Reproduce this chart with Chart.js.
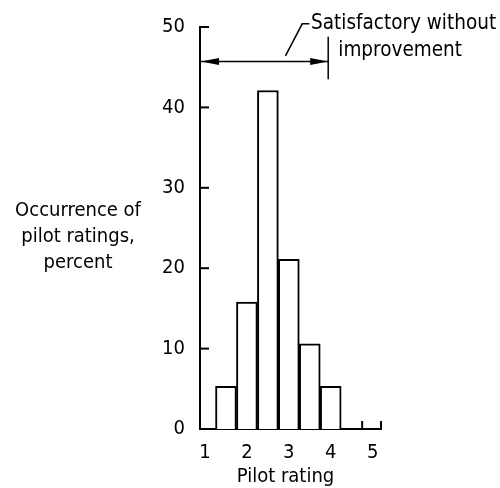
<!DOCTYPE html>
<html>
<head>
<meta charset="utf-8">
<script src="https://cdn.jsdelivr.net/npm/chart.js@4"></script>
<style>
  body { margin: 0; background: #fff; }
  #wrap { width: 500px; height: 488px; }
</style>
</head>
<body>
<div id="wrap"><canvas id="chart" width="500" height="488"></canvas></div>
<script>
// pilot rating bins (centers) and percent occurrence
const ratings = [1.5, 2, 2.5, 3, 3.5, 4];
const percents = [5.3, 15.8, 42.1, 21.1, 10.6, 5.3];
const xTicks = [1, 2, 3, 4, 5];
const yTicks = [0, 10, 20, 30, 40, 50];
const xMarks = [4.75, 5.2];
const yTitle = ['Occurrence of', 'pilot ratings,', 'percent'];
const note = ['Satisfactory without', 'improvement'];
const satisfactory = [0.88, 3.94]; // arrow range, rating units
const arrowLevel = 45.7;

const FONT = "'DejaVu Sans Condensed', sans-serif";
const TICKFONT = "'Liberation Sans Narrow', 'DejaVu Sans Condensed', sans-serif";

const extras = {
  id: 'extras',
  afterDraw(chart) {
    const ctx = chart.ctx;
    const x = chart.scales.x, y = chart.scales.y;
    const area = chart.chartArea;
    ctx.save();
    ctx.strokeStyle = '#000';
    ctx.fillStyle = '#000';
    ctx.lineWidth = 2;

    // y tick stubs pointing inward
    yTicks.forEach(v => {
      if (v === 0) return;
      const py = y.getPixelForValue(v);
      ctx.beginPath();
      ctx.moveTo(area.left, py);
      ctx.lineTo(area.left + 9, py);
      ctx.stroke();
    });

    // small upward marks at right end of x axis
    xMarks.forEach(v => {
      const px = x.getPixelForValue(v);
      ctx.beginPath();
      ctx.moveTo(px, area.bottom);
      ctx.lineTo(px, area.bottom - 8);
      ctx.stroke();
    });

    // y title, three centered lines
    ctx.font = '20px ' + FONT;
    ctx.textAlign = 'center';
    ctx.textBaseline = 'middle';
    yTitle.forEach((t, i) => ctx.fillText(t, 78, 211 + i * 26));

    // x title
    ctx.fillText('Pilot rating', x.getPixelForValue(2.92), 477);

    // arrow for satisfactory range
    const ay = y.getPixelForValue(arrowLevel);
    const x0 = x.getPixelForValue(satisfactory[0]);
    const x1 = x.getPixelForValue(satisfactory[1]);
    ctx.lineWidth = 1.5;
    ctx.beginPath();
    ctx.moveTo(x0, ay);
    ctx.lineTo(x1, ay);
    ctx.stroke();
    const head = (tip, dir) => {
      ctx.beginPath();
      ctx.moveTo(tip, ay);
      ctx.lineTo(tip + dir * 18, ay - 3.5);
      ctx.lineTo(tip + dir * 18, ay + 3.5);
      ctx.closePath();
      ctx.fill();
    };
    head(x0 + 1, 1);
    head(x1, -1);
    ctx.beginPath();
    ctx.moveTo(x1, y.getPixelForValue(48.8));
    ctx.lineTo(x1, y.getPixelForValue(43.5));
    ctx.stroke();

    // leader line to note
    ctx.beginPath();
    ctx.moveTo(x.getPixelForValue(2.92), y.getPixelForValue(46.4));
    ctx.lineTo(x.getPixelForValue(3.32), y.getPixelForValue(50.4));
    ctx.lineTo(x.getPixelForValue(3.49), y.getPixelForValue(50.4));
    ctx.stroke();

    ctx.font = '20.5px ' + FONT;
    ctx.textAlign = 'left';
    ctx.fillText(note[0], x.getPixelForValue(3.53), y.getPixelForValue(50.4));
    ctx.fillText(note[1], x.getPixelForValue(4.18), y.getPixelForValue(47.1));
    ctx.restore();
  }
};

new Chart(document.getElementById('chart'), {
  type: 'bar',
  data: {
    datasets: [{
      data: ratings.map((r, i) => ({ x: r, y: percents[i] })),
      backgroundColor: '#fff',
      borderColor: '#000',
      borderWidth: 2,
      barPercentage: 1,
      categoryPercentage: 1
    }]
  },
  options: {
    responsive: false,
    animation: false,
    layout: { padding: { top: 23, right: 119, left: 0, bottom: 0 } },
    plugins: { legend: { display: false }, tooltip: { enabled: false } },
    scales: {
      x: {
        type: 'linear',
        offset: false,
        min: 0.88,
        max: 5.2,
        afterBuildTicks: s => { s.ticks = xTicks.map(v => ({ value: v })); },
        afterFit: s => { s.height = 59; },
        grid: { display: false, drawTicks: false, offset: false },
        border: { color: '#000', width: 2 },
        ticks: { color: '#000', padding: 12, maxRotation: 0, font: { family: TICKFONT, size: 20 } }
      },
      y: {
        min: 0,
        max: 50,
        afterBuildTicks: s => { s.ticks = yTicks.map(v => ({ value: v })); },
        afterFit: s => { s.width = 200; },
        grid: { display: false, drawTicks: false },
        border: { color: '#000', width: 2 },
        ticks: { color: '#000', padding: 15, font: { family: TICKFONT, size: 20 } }
      }
    }
  },
  plugins: [extras]
});
</script>
</body>
</html>
